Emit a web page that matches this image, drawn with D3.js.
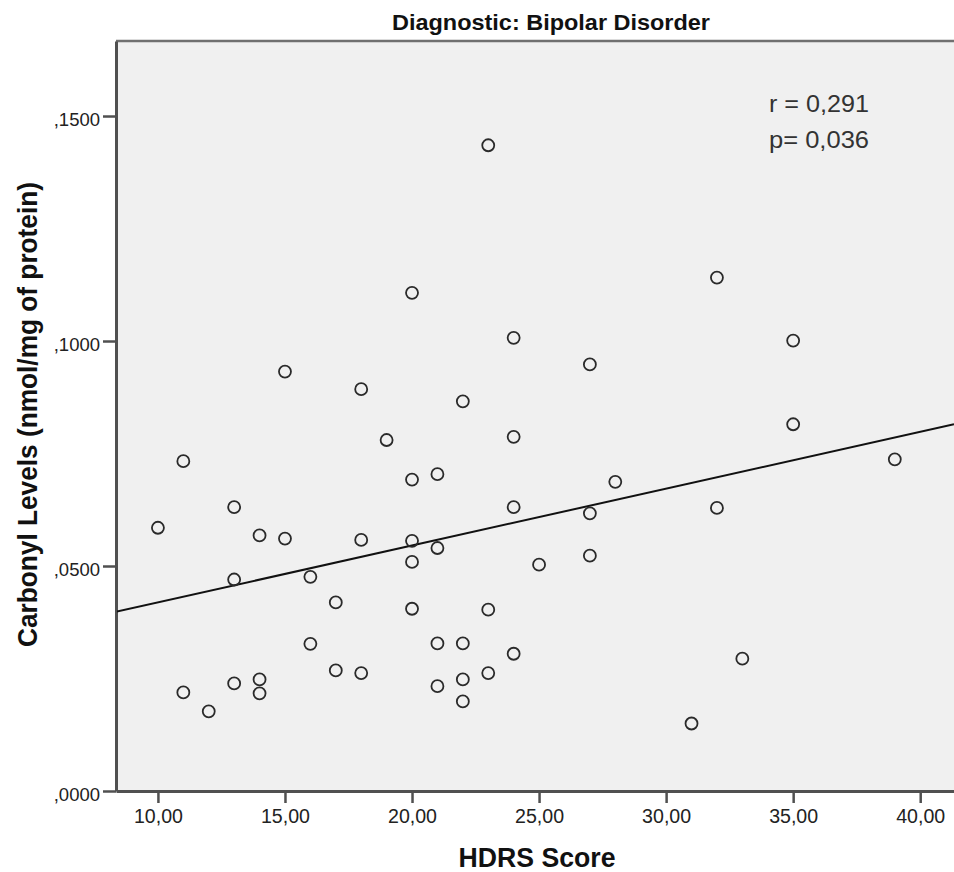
<!DOCTYPE html>
<html>
<head>
<meta charset="utf-8">
<script src="https://cdn.jsdelivr.net/npm/d3@7"></script>
<style>
  html, body { margin: 0; padding: 0; background: #fff; }
  svg { display: block; font-family: "Liberation Sans", Arial, sans-serif; }
</style>
</head>
<body>
<div id="chart"></div>
<script>
// HDRS score (x) and carbonyl level (y)
const hdrsScore = [10, 11, 11, 12, 13, 13, 13, 14, 14, 14, 15, 15, 16, 16, 17, 17, 18, 18, 18, 19,
  20, 20, 20, 20, 20, 21, 21, 21, 21, 22, 22, 22, 22, 23, 23, 23, 24, 24, 24, 24,
  25, 27, 27, 27, 28, 31, 32, 32, 33, 35, 35, 39];
const carbonyl = [0.0585, 0.0733, 0.0219, 0.0177, 0.0631, 0.0470, 0.0239, 0.0568, 0.0248, 0.0217,
  0.0932, 0.0561, 0.0476, 0.0327, 0.0419, 0.0268, 0.0893, 0.0558, 0.0262, 0.0780,
  0.1107, 0.0692, 0.0556, 0.0509, 0.0405, 0.0704, 0.0540, 0.0328, 0.0233, 0.0866,
  0.0328, 0.0248, 0.0199, 0.1435, 0.0403, 0.0262, 0.1007, 0.0787, 0.0631, 0.0305,
  0.0503, 0.0948, 0.0617, 0.0523, 0.0687, 0.0150, 0.1141, 0.0629, 0.0294, 0.1001,
  0.0815, 0.0737];
const xTicks = [10, 15, 20, 25, 30, 35, 40];
const yTicks = [0, 0.05, 0.10, 0.15];
const statLines = ["r = 0,291", "p= 0,036"];

const W = 954, H = 872;
const plot = {left: 116, top: 41, right: 954, bottom: 791};

const svg = d3.select("#chart").append("svg").attr("width", W).attr("height", H);

const x = d3.scaleLinear().domain([8.35, 41.33]).range([plot.left, plot.right]);
const y = d3.scaleLinear().domain([0, 0.16667]).range([plot.bottom, plot.top]);

// comma decimals like the SPSS output
const fmtX = d => d3.format(".2f")(d).replace(".", ",");
const fmtY = d => d3.format(".4f")(d).replace(/^0\./, ",");

svg.append("rect")
  .attr("x", plot.left).attr("y", plot.top)
  .attr("width", plot.right - plot.left + 10).attr("height", plot.bottom - plot.top)
  .attr("fill", "#f0f0f0");

// top frame line
svg.append("line")
  .attr("x1", plot.left).attr("x2", W)
  .attr("y1", plot.top).attr("y2", plot.top)
  .attr("stroke", "#707070").attr("stroke-width", 2.5);

// axes
const xAxis = svg.append("g")
  .attr("transform", `translate(0,${plot.bottom})`)
  .call(d3.axisBottom(x).tickValues(xTicks).tickFormat(fmtX).tickSizeInner(12).tickSizeOuter(0).tickPadding(6));
xAxis.select(".domain").attr("stroke", "#505050").attr("stroke-width", 3);
xAxis.selectAll(".tick line").attr("stroke", "#505050").attr("stroke-width", 2.5);
xAxis.selectAll(".tick text")
  .attr("font-size", 19.5).attr("fill", "#222")
  .attr("font-family", "'Liberation Sans', Arial, sans-serif")
  .attr("textLength", 49).attr("lengthAdjust", "spacingAndGlyphs");

const yAxis = svg.append("g")
  .attr("transform", `translate(${plot.left},0)`)
  .call(d3.axisLeft(y).tickValues(yTicks).tickFormat(fmtY).tickSizeInner(13).tickSizeOuter(0).tickPadding(3));
yAxis.select(".domain").attr("stroke", "#505050").attr("stroke-width", 3);
yAxis.selectAll(".tick line").attr("stroke", "#505050").attr("stroke-width", 2.5);
yAxis.selectAll(".tick text")
  .attr("font-size", 18.5).attr("fill", "#222").attr("dy", "0.5em")
  .attr("font-family", "'Liberation Sans', Arial, sans-serif");

// least-squares fit line
const mx = d3.mean(hdrsScore), my = d3.mean(carbonyl);
const sxy = d3.sum(hdrsScore, (v, i) => (v - mx) * (carbonyl[i] - my));
const sxx = d3.sum(hdrsScore, v => (v - mx) * (v - mx));
const slope = sxy / sxx, icpt = my - slope * mx;
const [x0, x1] = x.domain();

svg.append("defs").append("clipPath").attr("id", "clip")
  .append("rect").attr("x", plot.left + 1).attr("y", plot.top)
  .attr("width", plot.right - plot.left).attr("height", plot.bottom - plot.top - 1);

svg.append("line")
  .attr("clip-path", "url(#clip)")
  .attr("x1", x(x0)).attr("y1", y(icpt + slope * x0))
  .attr("x2", x(x1)).attr("y2", y(icpt + slope * x1))
  .attr("stroke", "#111").attr("stroke-width", 2);

svg.append("g").selectAll("circle")
  .data(hdrsScore.map((v, i) => [v, carbonyl[i]]))
  .join("circle")
  .attr("cx", d => x(d[0])).attr("cy", d => y(d[1]))
  .attr("r", 6)
  .attr("fill", "none").attr("stroke", "#2a2a2a").attr("stroke-width", 1.8);

// r / p annotation
svg.append("g").selectAll("text")
  .data(statLines)
  .join("text")
  .attr("x", 769).attr("y", (d, i) => 112 + i * 36)
  .attr("font-size", 23).attr("fill", "#333")
  .attr("textLength", 100).attr("lengthAdjust", "spacingAndGlyphs")
  .text(d => d);

svg.append("text")
  .attr("x", 551).attr("y", 30)
  .attr("text-anchor", "middle")
  .attr("font-size", 22).attr("font-weight", "bold").attr("fill", "#111")
  .attr("textLength", 318).attr("lengthAdjust", "spacingAndGlyphs")
  .text("Diagnostic: Bipolar Disorder");

svg.append("text")
  .attr("x", 537).attr("y", 866.5)
  .attr("text-anchor", "middle")
  .attr("font-size", 27.5).attr("font-weight", "bold").attr("fill", "#111")
  .attr("textLength", 157).attr("lengthAdjust", "spacingAndGlyphs")
  .text("HDRS Score");

svg.append("text")
  .attr("transform", "translate(37,414.5) rotate(-90)")
  .attr("text-anchor", "middle")
  .attr("font-size", 27).attr("font-weight", "bold").attr("fill", "#111")
  .attr("textLength", 465).attr("lengthAdjust", "spacingAndGlyphs")
  .text("Carbonyl Levels (nmol/mg of protein)");
</script>
</body>
</html>
